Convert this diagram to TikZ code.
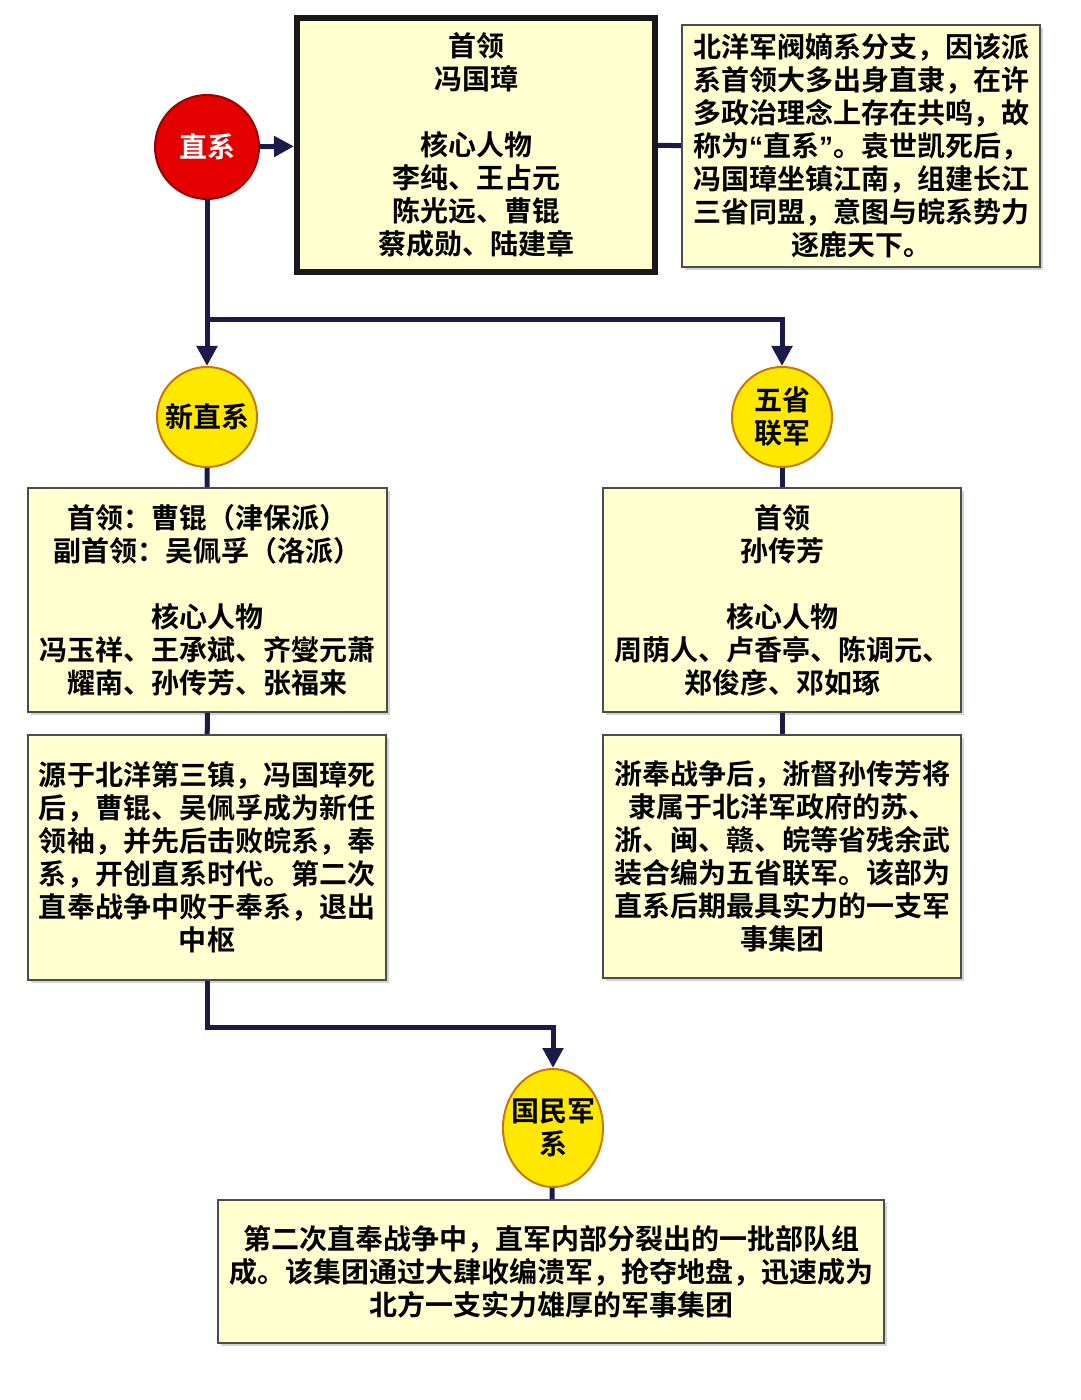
\documentclass[tikz,border=0pt]{standalone}
\usepackage{fontspec}
\setmainfont{Noto Sans CJK SC}[BoldFont={* Bold}]
\newfontfamily\latin{Liberation Sans}
\usepackage{xcolor}
\usetikzlibrary{positioning, arrows.meta, shapes.geometric, shadows}
\definecolor{linkblue}{HTML}{1B1B4A}
\definecolor{paper}{HTML}{FFFFCF}
\definecolor{sunny}{HTML}{FFE800}
\definecolor{rim}{HTML}{C97800}
\tikzset{
  txt/.style = {font=\bfseries\fontsize{14}{16.5}\selectfont, align=center},
  card/.style = {txt, draw=black!70, line width=0.8pt, fill=paper, inner sep=0pt,
                 drop shadow={shadow xshift=1.5pt, shadow yshift=-1.5pt, opacity=0.35}},
  lead/.style = {card, draw=black!90, line width=3pt},
  sun/.style = {txt, circle, draw=rim, line width=1pt, fill=sunny, inner sep=0pt},
  link/.style = {draw=linkblue, line width=2.5pt},
  arrow/.style = {link, -{Triangle[length=10pt,width=10pt]}}
}
\begin{document}
\begin{tikzpicture}[x=0.5pt, y=-0.5pt]
        \useasboundingbox (0,0) rectangle (1080,1400);
        % root
        \node [txt, circle, draw=red!60!black, line width=1pt, fill=red!90!black,
               text=white, minimum size=52pt] (zx) at (207,147) {直系};
        \node [lead, minimum width=179pt, minimum height=127pt] (zxlead) at (476,145)
              {首领\\冯国璋\\[16.5pt]核心人物\\李纯、王占元\\陈光远、曹锟\\蔡成勋、陆建章};
        \node [card, minimum width=179pt, minimum height=121pt] (zxinfo) at (861,146)
              {北洋军阀嫡系分支，因该派\\系首领大多出身直隶，在许\\多政治理念上存在共鸣，故\\称为{\latin\bfseries “}直系{\latin\bfseries ”}。袁世凯死后，\\冯国璋坐镇江南，组建长江\\三省同盟，意图与皖系势力\\逐鹿天下。};
        % branches
        \node [sun, minimum size=50pt] (xzx) at (207,417) {新直系};
        \node [sun, minimum size=50pt] (wsl) at (782,417) {五省\\联军};
        \node [card, minimum width=179.5pt, minimum height=112pt] (xzxlead) at (207.5,600)
              {首领：曹锟（津保派）\\副首领：吴佩孚（洛派）\\[16.5pt]核心人物\\冯玉祥、王承斌、齐燮元萧\\耀南、孙传芳、张福来};
        \node [card, minimum width=179pt, minimum height=122.5pt] (xzxinfo) at (207,857.5)
              {源于北洋第三镇，冯国璋死\\后，曹锟、吴佩孚成为新任\\领袖，并先后击败皖系，奉\\系，开创直系时代。第二次\\直奉战争中败于奉系，退出\\中枢};
        \node [card, minimum width=179pt, minimum height=112pt] (wsllead) at (782,600)
              {首领\\孙传芳\\[16.5pt]核心人物\\周荫人、卢香亭、陈调元、\\郑俊彦、邓如琢};
        \node [card, minimum width=179pt, minimum height=121.5pt] (wslinfo) at (782,856.5)
              {浙奉战争后，浙督孙传芳将\\隶属于北洋军政府的苏、\\浙、闽、赣、皖等省残余武\\装合编为五省联军。该部为\\直系后期最具实力的一支军\\事集团};
        % last
        \node [sun, ellipse, inner xsep=-3.5pt, minimum width=50pt, minimum height=59pt] (gmj) at (553,1128) {国民军\\系};
        \node [card, minimum width=333pt, minimum height=71.5pt] (gmjinfo) at (551,1271.5)
              {第二次直奉战争中，直军内部分裂出的一批部队组\\成。该集团通过大肆收编溃军，抢夺地盘，迅速成为\\北方一支实力雄厚的军事集团};
        \coordinate (fork) at (207,320);
        \coordinate (bend) at (380,1027);
        % connectors
        \draw [arrow] (zx) -- (zxlead);
        \draw [link] (zxlead) -- (zxinfo);
        \draw [arrow] (zx) -- (xzx);
        \draw [arrow] (fork) -| (wsl);
        \draw [link] (xzx) -- (xzxlead);
        \draw [link] (xzxlead) -- (xzxinfo);
        \draw [link] (wsl) -- (wsllead);
        \draw [link] (wsllead) -- (wslinfo);
        \draw [arrow] (xzxinfo) |- (bend) -| (gmj);
        \draw [link] (gmj) -- (gmjinfo);
    \end{tikzpicture}
\end{document}
